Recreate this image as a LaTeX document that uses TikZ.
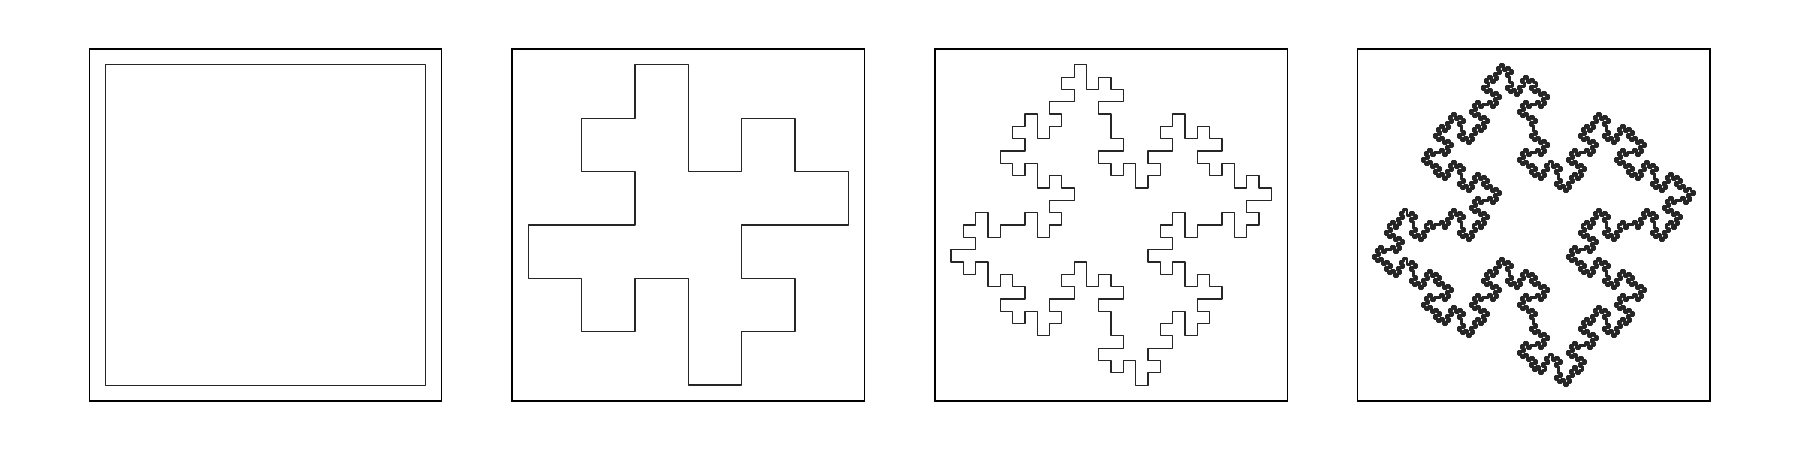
\documentclass[tikz,border=0pt]{standalone}
\usepackage{tikz}
\usetikzlibrary{lindenmayersystems}

\pgfdeclarelindenmayersystem{quadratic koch island}{
  \rule{F -> F+F-F-FF+F+F-F}
}

\begin{document}
\begin{tikzpicture}[
    panel/.style={rectangle, draw=black, line width=0.4pt, minimum size=3.523cm, inner sep=0pt},
    island/.style={draw=black!85, line join=round}
]
    \useasboundingbox (0,0) rectangle (18,4.5);

    % frames with the iterations 0 to 3 of the island
    \foreach \lvl/\unit/\corner/\lw in {0/3.203/1.6015/0.36, 1/0.5338/1.0677/0.36, 2/0.12319/0.9855/0.36, 3/0.030217/0.9669/0.85}{
        \node[panel] (frame\lvl) at (2.655+4.228*\lvl, 2.25) {};
        \begin{scope}[shift={(frame\lvl.center)}, shift={(-\corner,\corner)}]
            \draw[island, line width=\lw pt, l-system={quadratic koch island, axiom=F-F-F-F, order=\lvl, step=\unit cm, angle=90}]
                lindenmayer system -- cycle;
        \end{scope}
    }
\end{tikzpicture}
\end{document}
